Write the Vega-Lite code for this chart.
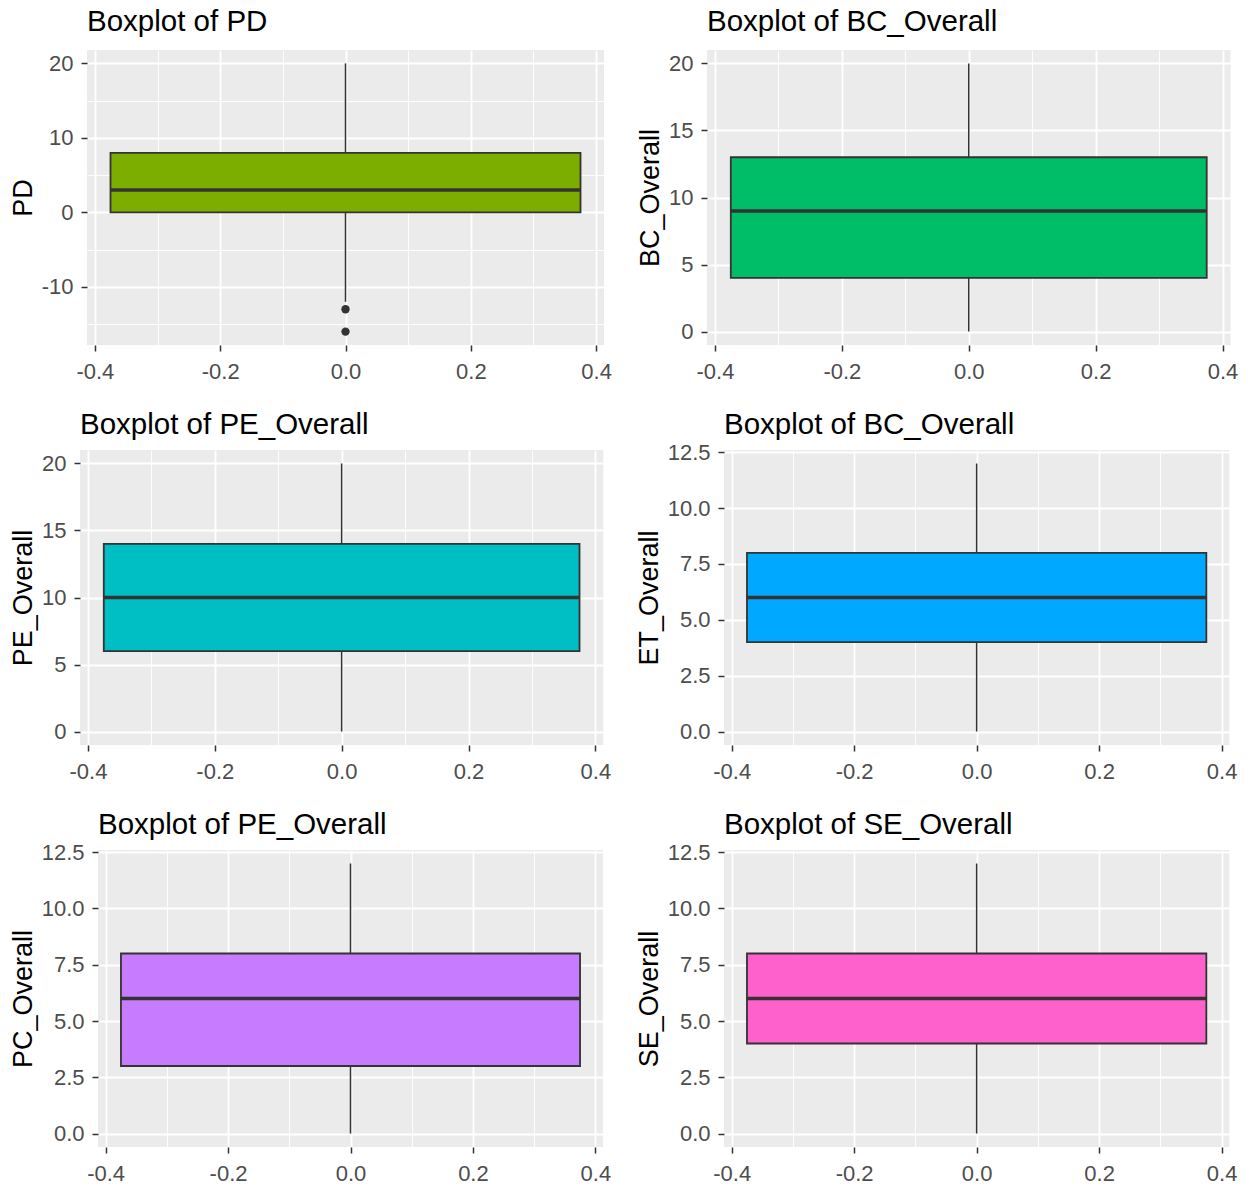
{
  "$schema": "https://vega.github.io/schema/vega-lite/v6.json",
  "padding": {"left": 0, "top": 6, "right": 0, "bottom": 0},
  "datasets": {
    "stats": [
      {"var": "PD", "lower": -12, "q1": 0, "median": 3, "q3": 8, "upper": 20},
      {"var": "BC_Overall", "lower": 0, "q1": 4, "median": 9, "q3": 13, "upper": 20},
      {"var": "PE_Overall", "lower": 0, "q1": 6, "median": 10, "q3": 14, "upper": 20},
      {"var": "ET_Overall", "lower": 0, "q1": 4, "median": 6, "q3": 8, "upper": 12},
      {"var": "PC_Overall", "lower": 0, "q1": 3, "median": 6, "q3": 8, "upper": 12},
      {"var": "SE_Overall", "lower": 0, "q1": 4, "median": 6, "q3": 8, "upper": 12}
    ],
    "outliers": [
      {"var": "PD", "value": -13},
      {"var": "PD", "value": -16}
    ]
  },
  "spacing": 27,
  "vconcat": [
    {
      "spacing": 0,
      "hconcat": [
        {"width": 9, "height": 1, "data": {"values": []}, "mark": "point"},
        {
          "spacing": 24,
          "hconcat": [
            {
              "width": 517, "height": 295,
              "title": {"text": "Boxplot of PD", "offset": 13},
              "view": {"fill": "#EBEBEB", "stroke": null},
              "data": {"name": "stats"},
              "transform": [{"filter": "datum.var === 'PD'"}],
              "layer": [
                {"mark": {"type": "rule", "color": "#333333", "strokeWidth": 1.5},
                 "encoding": {
                   "x": {"datum": 0, "type": "quantitative", "scale": {"domain": [-0.4125, 0.4125], "nice": false, "zero": false},
                         "axis": {"title": null, "values": [-0.4, -0.3, -0.2, -0.1, 0, 0.1, 0.2, 0.3, 0.4],
                                  "labelExpr": "abs(round(datum.value*10))%2==1 ? '' : replace(format(datum.value,'.1f'),'\u2212','-')",
                                  "tickOpacity": {"condition": {"test": "abs(round(datum.value*10))%2==1", "value": 0}, "value": 1},
                                  "gridWidth": {"condition": {"test": "abs(round(datum.value*10))%2==1", "value": 0.9}, "value": 1.8}}},
                   "y": {"field": "lower", "type": "quantitative", "title": "PD", "scale": {"domain": [-17.8, 21.8], "nice": false, "zero": false},
                         "axis": {"title": "PD", "values": [-15, -10, -5, 0, 5, 10, 15, 20],
                                  "labelExpr": "abs(round(datum.value/5))%2==1 ? '' : replace(format(datum.value,'d'),'\u2212','-')",
                                  "tickOpacity": {"condition": {"test": "abs(round(datum.value/5))%2==1", "value": 0}, "value": 1},
                                  "gridWidth": {"condition": {"test": "abs(round(datum.value/5))%2==1", "value": 0.9}, "value": 1.8}}},
                   "y2": {"field": "upper"}
                 }},
                {"mark": {"type": "rect", "fill": "#7CAE00", "stroke": "#333333", "strokeWidth": 1.8},
                 "encoding": {"x": {"datum": -0.375, "type": "quantitative"}, "x2": {"datum": 0.375},
                              "y": {"field": "q1", "type": "quantitative", "title": "PD"}, "y2": {"field": "q3"}}},
                {"mark": {"type": "rule", "color": "#333333", "strokeWidth": 3.5},
                 "encoding": {"x": {"datum": -0.375, "type": "quantitative"}, "x2": {"datum": 0.375},
                              "y": {"field": "median", "type": "quantitative", "title": "PD"}}},
                {"data": {"name": "outliers"}, "transform": [{"filter": "datum.var === 'PD'"}],
                 "mark": {"type": "circle", "color": "#333333", "opacity": 1, "size": 70},
                 "encoding": {"x": {"datum": 0, "type": "quantitative"},
                              "y": {"field": "value", "type": "quantitative", "title": "PD"}}}
              ]
            },
            {
              "width": 523.5, "height": 295,
              "title": {"text": "Boxplot of BC_Overall", "offset": 13},
              "view": {"fill": "#EBEBEB", "stroke": null},
              "data": {"name": "stats"},
              "transform": [{"filter": "datum.var === 'BC_Overall'"}],
              "layer": [
                {"mark": {"type": "rule", "color": "#333333", "strokeWidth": 1.5},
                 "encoding": {
                   "x": {"datum": 0, "type": "quantitative", "scale": {"domain": [-0.4125, 0.4125], "nice": false, "zero": false},
                         "axis": {"title": null, "values": [-0.4, -0.3, -0.2, -0.1, 0, 0.1, 0.2, 0.3, 0.4],
                                  "labelExpr": "abs(round(datum.value*10))%2==1 ? '' : replace(format(datum.value,'.1f'),'\u2212','-')",
                                  "tickOpacity": {"condition": {"test": "abs(round(datum.value*10))%2==1", "value": 0}, "value": 1},
                                  "gridWidth": {"condition": {"test": "abs(round(datum.value*10))%2==1", "value": 0.9}, "value": 1.8}}},
                   "y": {"field": "lower", "type": "quantitative", "title": "BC_Overall", "scale": {"domain": [-1, 21], "nice": false, "zero": false},
                         "axis": {"title": "BC_Overall", "values": [0, 2.5, 5, 7.5, 10, 12.5, 15, 17.5, 20],
                                  "labelExpr": "abs(round(datum.value/2.5))%2==1 ? '' : format(datum.value,'d')",
                                  "tickOpacity": {"condition": {"test": "abs(round(datum.value/2.5))%2==1", "value": 0}, "value": 1},
                                  "gridWidth": {"condition": {"test": "abs(round(datum.value/2.5))%2==1", "value": 0.9}, "value": 1.8}}},
                   "y2": {"field": "upper"}
                 }},
                {"mark": {"type": "rect", "fill": "#00BE67", "stroke": "#333333", "strokeWidth": 1.8},
                 "encoding": {"x": {"datum": -0.375, "type": "quantitative"}, "x2": {"datum": 0.375},
                              "y": {"field": "q1", "type": "quantitative", "title": "BC_Overall"}, "y2": {"field": "q3"}}},
                {"mark": {"type": "rule", "color": "#333333", "strokeWidth": 3.5},
                 "encoding": {"x": {"datum": -0.375, "type": "quantitative"}, "x2": {"datum": 0.375},
                              "y": {"field": "median", "type": "quantitative", "title": "BC_Overall"}}}
              ]
            }
          ]
        }
      ]
    },
    {
      "spacing": 0,
      "hconcat": [
        {"width": 9, "height": 1, "data": {"values": []}, "mark": "point"},
        {
          "spacing": 24,
          "hconcat": [
            {
              "width": 523.3, "height": 295,
              "title": {"text": "Boxplot of PE_Overall", "offset": 10},
              "view": {"fill": "#EBEBEB", "stroke": null},
              "data": {"name": "stats"},
              "transform": [{"filter": "datum.var === 'PE_Overall'"}],
              "layer": [
                {"mark": {"type": "rule", "color": "#333333", "strokeWidth": 1.5},
                 "encoding": {
                   "x": {"datum": 0, "type": "quantitative", "scale": {"domain": [-0.4125, 0.4125], "nice": false, "zero": false},
                         "axis": {"title": null, "values": [-0.4, -0.3, -0.2, -0.1, 0, 0.1, 0.2, 0.3, 0.4],
                                  "labelExpr": "abs(round(datum.value*10))%2==1 ? '' : replace(format(datum.value,'.1f'),'\u2212','-')",
                                  "tickOpacity": {"condition": {"test": "abs(round(datum.value*10))%2==1", "value": 0}, "value": 1},
                                  "gridWidth": {"condition": {"test": "abs(round(datum.value*10))%2==1", "value": 0.9}, "value": 1.8}}},
                   "y": {"field": "lower", "type": "quantitative", "title": "PE_Overall", "scale": {"domain": [-1, 21], "nice": false, "zero": false},
                         "axis": {"title": "PE_Overall", "values": [0, 2.5, 5, 7.5, 10, 12.5, 15, 17.5, 20],
                                  "labelExpr": "abs(round(datum.value/2.5))%2==1 ? '' : format(datum.value,'d')",
                                  "tickOpacity": {"condition": {"test": "abs(round(datum.value/2.5))%2==1", "value": 0}, "value": 1},
                                  "gridWidth": {"condition": {"test": "abs(round(datum.value/2.5))%2==1", "value": 0.9}, "value": 1.8}}},
                   "y2": {"field": "upper"}
                 }},
                {"mark": {"type": "rect", "fill": "#00BFC4", "stroke": "#333333", "strokeWidth": 1.8},
                 "encoding": {"x": {"datum": -0.375, "type": "quantitative"}, "x2": {"datum": 0.375},
                              "y": {"field": "q1", "type": "quantitative", "title": "PE_Overall"}, "y2": {"field": "q3"}}},
                {"mark": {"type": "rule", "color": "#333333", "strokeWidth": 3.5},
                 "encoding": {"x": {"datum": -0.375, "type": "quantitative"}, "x2": {"datum": 0.375},
                              "y": {"field": "median", "type": "quantitative", "title": "PE_Overall"}}}
              ]
            },
            {
              "width": 505.3, "height": 295,
              "title": {"text": "Boxplot of BC_Overall", "offset": 1},
              "view": {"fill": "#EBEBEB", "stroke": null},
              "data": {"name": "stats"},
              "transform": [{"filter": "datum.var === 'ET_Overall'"}],
              "layer": [
                {"mark": {"type": "rule", "color": "#333333", "strokeWidth": 1.5},
                 "encoding": {
                   "x": {"datum": 0, "type": "quantitative", "scale": {"domain": [-0.4125, 0.4125], "nice": false, "zero": false},
                         "axis": {"title": null, "values": [-0.4, -0.3, -0.2, -0.1, 0, 0.1, 0.2, 0.3, 0.4],
                                  "labelExpr": "abs(round(datum.value*10))%2==1 ? '' : replace(format(datum.value,'.1f'),'\u2212','-')",
                                  "tickOpacity": {"condition": {"test": "abs(round(datum.value*10))%2==1", "value": 0}, "value": 1},
                                  "gridWidth": {"condition": {"test": "abs(round(datum.value*10))%2==1", "value": 0.9}, "value": 1.8}}},
                   "y": {"field": "lower", "type": "quantitative", "title": "ET_Overall", "scale": {"domain": [-0.6, 12.6], "nice": false, "zero": false},
                         "axis": {"title": "ET_Overall", "values": [0, 1.25, 2.5, 3.75, 5, 6.25, 7.5, 8.75, 10, 11.25, 12.5],
                                  "labelExpr": "abs(round(datum.value/1.25))%2==1 ? '' : format(datum.value,'.1f')",
                                  "tickOpacity": {"condition": {"test": "abs(round(datum.value/1.25))%2==1", "value": 0}, "value": 1},
                                  "gridWidth": {"condition": {"test": "abs(round(datum.value/1.25))%2==1", "value": 0.9}, "value": 1.8}}},
                   "y2": {"field": "upper"}
                 }},
                {"mark": {"type": "rect", "fill": "#00A9FF", "stroke": "#333333", "strokeWidth": 1.8},
                 "encoding": {"x": {"datum": -0.375, "type": "quantitative"}, "x2": {"datum": 0.375},
                              "y": {"field": "q1", "type": "quantitative", "title": "ET_Overall"}, "y2": {"field": "q3"}}},
                {"mark": {"type": "rule", "color": "#333333", "strokeWidth": 3.5},
                 "encoding": {"x": {"datum": -0.375, "type": "quantitative"}, "x2": {"datum": 0.375},
                              "y": {"field": "median", "type": "quantitative", "title": "ET_Overall"}}}
              ]
            }
          ]
        }
      ]
    },
    {
      "spacing": 0,
      "hconcat": [
        {"width": 9, "height": 1, "data": {"values": []}, "mark": "point"},
        {
          "spacing": 24,
          "hconcat": [
            {
              "width": 505, "height": 297,
              "title": {"text": "Boxplot of PE_Overall", "offset": 1},
              "view": {"fill": "#EBEBEB", "stroke": null},
              "data": {"name": "stats"},
              "transform": [{"filter": "datum.var === 'PC_Overall'"}],
              "layer": [
                {"mark": {"type": "rule", "color": "#333333", "strokeWidth": 1.5},
                 "encoding": {
                   "x": {"datum": 0, "type": "quantitative", "scale": {"domain": [-0.4125, 0.4125], "nice": false, "zero": false},
                         "axis": {"title": null, "values": [-0.4, -0.3, -0.2, -0.1, 0, 0.1, 0.2, 0.3, 0.4],
                                  "labelExpr": "abs(round(datum.value*10))%2==1 ? '' : replace(format(datum.value,'.1f'),'\u2212','-')",
                                  "tickOpacity": {"condition": {"test": "abs(round(datum.value*10))%2==1", "value": 0}, "value": 1},
                                  "gridWidth": {"condition": {"test": "abs(round(datum.value*10))%2==1", "value": 0.9}, "value": 1.8}}},
                   "y": {"field": "lower", "type": "quantitative", "title": "PC_Overall", "scale": {"domain": [-0.6, 12.6], "nice": false, "zero": false},
                         "axis": {"title": "PC_Overall", "values": [0, 1.25, 2.5, 3.75, 5, 6.25, 7.5, 8.75, 10, 11.25, 12.5],
                                  "labelExpr": "abs(round(datum.value/1.25))%2==1 ? '' : format(datum.value,'.1f')",
                                  "tickOpacity": {"condition": {"test": "abs(round(datum.value/1.25))%2==1", "value": 0}, "value": 1},
                                  "gridWidth": {"condition": {"test": "abs(round(datum.value/1.25))%2==1", "value": 0.9}, "value": 1.8}}},
                   "y2": {"field": "upper"}
                 }},
                {"mark": {"type": "rect", "fill": "#C77CFF", "stroke": "#333333", "strokeWidth": 1.8},
                 "encoding": {"x": {"datum": -0.375, "type": "quantitative"}, "x2": {"datum": 0.375},
                              "y": {"field": "q1", "type": "quantitative", "title": "PC_Overall"}, "y2": {"field": "q3"}}},
                {"mark": {"type": "rule", "color": "#333333", "strokeWidth": 3.5},
                 "encoding": {"x": {"datum": -0.375, "type": "quantitative"}, "x2": {"datum": 0.375},
                              "y": {"field": "median", "type": "quantitative", "title": "PC_Overall"}}}
              ]
            },
            {
              "width": 505.3, "height": 297,
              "title": {"text": "Boxplot of SE_Overall", "offset": 1},
              "view": {"fill": "#EBEBEB", "stroke": null},
              "data": {"name": "stats"},
              "transform": [{"filter": "datum.var === 'SE_Overall'"}],
              "layer": [
                {"mark": {"type": "rule", "color": "#333333", "strokeWidth": 1.5},
                 "encoding": {
                   "x": {"datum": 0, "type": "quantitative", "scale": {"domain": [-0.4125, 0.4125], "nice": false, "zero": false},
                         "axis": {"title": null, "values": [-0.4, -0.3, -0.2, -0.1, 0, 0.1, 0.2, 0.3, 0.4],
                                  "labelExpr": "abs(round(datum.value*10))%2==1 ? '' : replace(format(datum.value,'.1f'),'\u2212','-')",
                                  "tickOpacity": {"condition": {"test": "abs(round(datum.value*10))%2==1", "value": 0}, "value": 1},
                                  "gridWidth": {"condition": {"test": "abs(round(datum.value*10))%2==1", "value": 0.9}, "value": 1.8}}},
                   "y": {"field": "lower", "type": "quantitative", "title": "SE_Overall", "scale": {"domain": [-0.6, 12.6], "nice": false, "zero": false},
                         "axis": {"title": "SE_Overall", "values": [0, 1.25, 2.5, 3.75, 5, 6.25, 7.5, 8.75, 10, 11.25, 12.5],
                                  "labelExpr": "abs(round(datum.value/1.25))%2==1 ? '' : format(datum.value,'.1f')",
                                  "tickOpacity": {"condition": {"test": "abs(round(datum.value/1.25))%2==1", "value": 0}, "value": 1},
                                  "gridWidth": {"condition": {"test": "abs(round(datum.value/1.25))%2==1", "value": 0.9}, "value": 1.8}}},
                   "y2": {"field": "upper"}
                 }},
                {"mark": {"type": "rect", "fill": "#FF61CC", "stroke": "#333333", "strokeWidth": 1.8},
                 "encoding": {"x": {"datum": -0.375, "type": "quantitative"}, "x2": {"datum": 0.375},
                              "y": {"field": "q1", "type": "quantitative", "title": "SE_Overall"}, "y2": {"field": "q3"}}},
                {"mark": {"type": "rule", "color": "#333333", "strokeWidth": 3.5},
                 "encoding": {"x": {"datum": -0.375, "type": "quantitative"}, "x2": {"datum": 0.375},
                              "y": {"field": "median", "type": "quantitative", "title": "SE_Overall"}}}
              ]
            }
          ]
        }
      ]
    }
  ],
  "config": {
    "font": "Liberation Sans",
    "view": {"stroke": null},
    "title": {"font": "Liberation Sans", "fontSize": 29.5, "fontWeight": "normal", "color": "#000000", "anchor": "start", "frame": "group", "baseline": "alphabetic"},
    "axis": {"grid": true, "gridColor": "#FFFFFF", "domain": false, "tickColor": "#333333", "tickWidth": 1.5,
             "labelColor": "#4D4D4D", "labelFont": "Liberation Sans", "labelFontSize": 22,
             "titleFont": "Liberation Sans", "titleFontSize": 27, "titleFontWeight": "normal", "titleColor": "#000000",
             "labelOverlap": false},
    "axisX": {"tickSize": 6, "labelPadding": 10, "labelFlush": false},
    "axisY": {"tickSize": 6, "labelPadding": 8, "titlePadding": 4}
  }
}
